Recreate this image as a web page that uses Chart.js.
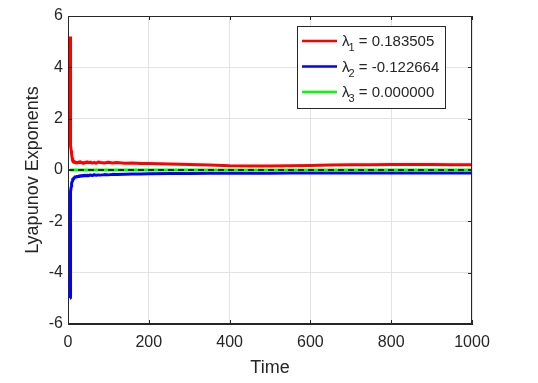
<!DOCTYPE html>
<html lang="en">
<head>
  <meta charset="UTF-8">
  <title>Lyapunov Exponents</title>
  <script src="https://cdn.jsdelivr.net/npm/chart.js"></script>
  <style>
    body { margin: 0; padding: 0; background: #ffffff; }
    #wrap { width: 538px; height: 383px; }
  </style>
</head>
<body>
  <div id="wrap">
    <canvas id="lyapChart" width="538" height="383"></canvas>
  </div>
  <script>
    // time samples (shared by all three series)
    const timePoints = [5, 5.3, 5.6, 6, 6.4, 6.8, 7.4, 8, 9, 10, 11, 12, 13, 14.5, 16, 18, 20, 23, 26, 29,
      32, 35, 38, 41, 44, 47, 50, 55, 60, 65, 70, 75, 80, 90, 100, 110, 120, 140, 160, 180,
      200, 250, 300, 350, 400, 450, 500, 550, 600, 650, 700, 750, 800, 850, 900, 950, 1000];
    const lambda1 = [5.2, 4.3, 3.2, 2.3, 1.7, 1.3, 0.95, 0.75, 0.6, 0.5, 0.42, 0.36, 0.3, 0.38, 0.27, 0.33, 0.25, 0.31, 0.26, 0.34,
      0.28, 0.3, 0.24, 0.3, 0.27, 0.33, 0.28, 0.31, 0.27, 0.3, 0.26, 0.31, 0.29, 0.27, 0.3, 0.27, 0.29, 0.26, 0.27, 0.25,
      0.25, 0.23, 0.21, 0.19, 0.17, 0.16, 0.16, 0.17, 0.18, 0.19, 0.2, 0.2, 0.21, 0.21, 0.21, 0.2, 0.2];
    const lambda2 = [-5.0, -4.0, -3.0, -2.2, -1.6, -1.2, -0.85, -0.65, -0.52, -0.45, -0.38, -0.33, -0.36, -0.27, -0.32, -0.24, -0.3, -0.22, -0.28, -0.21,
      -0.26, -0.2, -0.25, -0.19, -0.24, -0.2, -0.23, -0.19, -0.22, -0.18, -0.21, -0.19, -0.2, -0.18, -0.19, -0.17, -0.18, -0.17, -0.16, -0.16,
      -0.15, -0.14, -0.14, -0.13, -0.13, -0.13, -0.13, -0.12, -0.12, -0.12, -0.12, -0.12, -0.12, -0.12, -0.12, -0.12, -0.12];
    const lambda3 = timePoints.map(() => 0);
    const zeroLineX = [0, 1000];

    const xTicks = [0, 200, 400, 600, 800, 1000];
    const yTicks = [-6, -4, -2, 0, 2, 4, 6];

    const legendNames = ["λ", "λ", "λ"];
    const legendSubs = ["1", "2", "3"];
    const legendValues = ["0.183505", "-0.122664", "0.000000"];
    const seriesColors = ["#ff0000", "#0000ff", "#00ff00"];

    const FONT = "'Liberation Sans', Arial, Helvetica, sans-serif";
    const AXIS_COLOR = "#262626";

    const toXY = (ys) => timePoints.map((t, i) => ({ x: t, y: ys[i] }));

    // box on top/right + small inward tick marks, like matlab
    const boxPlugin = {
      id: "box",
      afterDatasetsDraw(chart) {
        const { ctx, chartArea: a, scales } = chart;
        ctx.save();
        ctx.strokeStyle = AXIS_COLOR;
        ctx.lineWidth = 1;
        ctx.strokeRect(a.left + 0.5, a.top + 0.5, a.right - a.left - 1, a.bottom - a.top - 1);
        ctx.beginPath();
        xTicks.forEach((v) => {
          const px = Math.round(scales.x.getPixelForValue(v)) + 0.5;
          ctx.moveTo(px, a.bottom); ctx.lineTo(px, a.bottom - 4);
          ctx.moveTo(px, a.top); ctx.lineTo(px, a.top + 4);
        });
        yTicks.forEach((v) => {
          const py = Math.round(scales.y.getPixelForValue(v)) + 0.5;
          ctx.moveTo(a.left, py); ctx.lineTo(a.left + 4, py);
          ctx.moveTo(a.right, py); ctx.lineTo(a.right - 4, py);
        });
        ctx.stroke();
        ctx.restore();
      }
    };

    // legend with subscripts (chart.js legend can't do them)
    const lambdaLegend = {
      id: "lambdaLegend",
      afterDraw(chart) {
        const { ctx } = chart;
        const box = { x: 297, y: 26, w: 148, h: 82 };
        ctx.save();
        ctx.fillStyle = "#ffffff";
        ctx.fillRect(box.x, box.y, box.w, box.h);
        ctx.strokeStyle = AXIS_COLOR;
        ctx.lineWidth = 1;
        ctx.strokeRect(box.x + 0.5, box.y + 0.5, box.w, box.h);
        legendNames.forEach((name, i) => {
          const cy = 41 + i * 25.5;
          ctx.strokeStyle = seriesColors[i];
          ctx.lineWidth = 2.5;
          ctx.beginPath();
          ctx.moveTo(302, cy); ctx.lineTo(337, cy);
          ctx.stroke();
          ctx.fillStyle = AXIS_COLOR;
          ctx.textBaseline = "alphabetic";
          ctx.textAlign = "left";
          let x = 342;
          ctx.font = "15px " + FONT;
          ctx.fillText(name, x, cy + 5);
          x += ctx.measureText(name).width - 1;
          ctx.font = "11px " + FONT;
          ctx.fillText(legendSubs[i], x, cy + 10);
          x += ctx.measureText(legendSubs[i]).width;
          ctx.font = "15px " + FONT;
          ctx.fillText(" = " + legendValues[i], x, cy + 5);
        });
        ctx.restore();
      }
    };

    new Chart(document.getElementById("lyapChart"), {
      type: "line",
      data: {
        datasets: [
          { label: "zero", data: zeroLineX.map((x) => ({ x, y: 0 })), borderColor: "#000000", borderWidth: 1.3, borderDash: [6, 4], order: 0 },
          { label: "λ3", data: toXY(lambda3), borderColor: seriesColors[2], borderWidth: 3, order: 1 },
          { label: "λ2", data: toXY(lambda2), borderColor: seriesColors[1], borderWidth: 3, order: 2 },
          { label: "λ1", data: toXY(lambda1), borderColor: seriesColors[0], borderWidth: 3, order: 3 }
        ]
      },
      options: {
        responsive: false,
        animation: false,
        devicePixelRatio: 1,
        layout: { padding: { top: 16, right: 66, left: 0, bottom: 0 } },
        elements: { point: { radius: 0 }, line: { tension: 0, borderJoinStyle: "bevel" } },
        plugins: { legend: { display: false }, tooltip: { enabled: false } },
        scales: {
          x: {
            type: "linear",
            min: 0,
            max: 1000,
            afterBuildTicks: (s) => { s.ticks = xTicks.map((v) => ({ value: v })); },
            afterFit: (s) => { s.height = 59; },
            grid: { color: "#e3e3e3", drawTicks: false },
            border: { display: true, color: AXIS_COLOR },
            ticks: { color: AXIS_COLOR, padding: 9, font: { family: FONT, size: 16 }, maxRotation: 0, callback: (v) => String(v) },
            title: { display: true, text: "Time", color: AXIS_COLOR, font: { family: FONT, size: 18 }, padding: { top: 0, bottom: 4 } }
          },
          y: {
            min: -6,
            max: 6,
            afterBuildTicks: (s) => { s.ticks = yTicks.map((v) => ({ value: v })); },
            afterFit: (s) => { s.width = 68; },
            grid: { color: "#e3e3e3", drawTicks: false },
            border: { display: true, color: AXIS_COLOR },
            ticks: { color: AXIS_COLOR, padding: 5, font: { family: FONT, size: 16 }, callback: (v) => String(v) },
            title: { display: true, text: "Lyapunov Exponents", color: AXIS_COLOR, font: { family: FONT, size: 18 }, padding: { top: 22, bottom: 0 } }
          }
        }
      },
      plugins: [boxPlugin, lambdaLegend]
    });
  </script>
</body>
</html>
